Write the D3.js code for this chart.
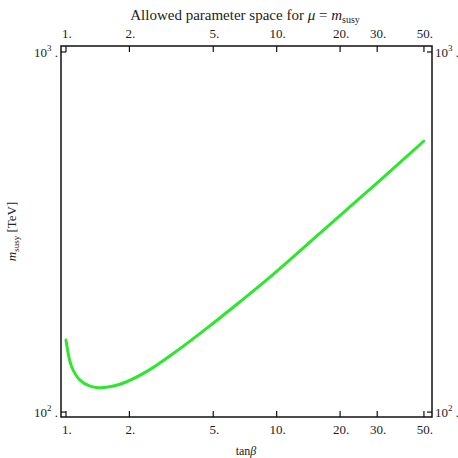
<!DOCTYPE html>
<html>
<head>
<meta charset="utf-8">
<script src="https://cdn.jsdelivr.net/npm/d3@7"></script>
<style>
  body { margin: 0; background: #fff; }
  text { font-family: "Liberation Serif", "DejaVu Serif", serif; fill: #222; }
</style>
</head>
<body>
<div id="chart"></div>
<script>
// curve
var tanBeta = [1.0, 1.064, 1.165, 1.3, 1.45, 1.68, 1.94, 2.5, 3.23, 4.65, 6.7, 9.29, 16.06, 23, 32.7, 50];
var mSusy = [158.5, 133.6, 122.7, 118.1, 116.8, 118.1, 121.4, 131.2, 145.4, 170.8, 202.5, 237, 314, 378, 453, 566];

var xTicks = [1, 2, 5, 10, 20, 30, 50];
var xTickLabels = ["1.", "2.", "5.", "10.", "20.", "30.", "50."];
var yTicks = [100, 1000];
var yTickExp = ["2", "3"];

var width = 458, height = 458;

var svg = d3.select("#chart").append("svg")
  .attr("width", width)
  .attr("height", height);

var x = d3.scaleLog().domain([0.947, 54.6]).range([61, 432]);
var y = d3.scaleLog().domain([96.9, 1039]).range([417, 46]);

var x0 = x.range()[0], x1 = x.range()[1];
var y0 = y.range()[0], y1 = y.range()[1];

// title
var title = svg.append("text")
  .attr("x", 245).attr("y", 20)
  .attr("text-anchor", "middle")
  .attr("font-size", 15);
title.append("tspan").text("Allowed parameter space for ");
title.append("tspan").attr("font-style", "italic").text("\u03bc");
title.append("tspan").text(" = ");
title.append("tspan").attr("font-style", "italic").text("m");
title.append("tspan").attr("font-size", 10).attr("dy", 3).text("susy");

// ticks, bottom and top pointing inward
xTicks.forEach(function(t, i) {
  svg.append("line")
    .attr("x1", x(t)).attr("x2", x(t))
    .attr("y1", y0).attr("y2", y0 - 6)
    .attr("stroke", "#111").attr("stroke-width", 1.2);
  svg.append("line")
    .attr("x1", x(t)).attr("x2", x(t))
    .attr("y1", y1).attr("y2", y1 + 6)
    .attr("stroke", "#111").attr("stroke-width", 1.2);
  svg.append("text")
    .attr("x", x(t) + 1).attr("y", y0 + 17)
    .attr("text-anchor", "middle")
    .attr("font-size", 13)
    .text(xTickLabels[i]);
  svg.append("text")
    .attr("x", x(t) + 1).attr("y", y1 - 8)
    .attr("text-anchor", "middle")
    .attr("font-size", 13)
    .text(xTickLabels[i]);
});

yTicks.forEach(function(t, i) {
  svg.append("line")
    .attr("x1", x0).attr("x2", x0 + 5)
    .attr("y1", y(t)).attr("y2", y(t))
    .attr("stroke", "#111").attr("stroke-width", 1.2);
  svg.append("line")
    .attr("x1", x1).attr("x2", x1 - 5)
    .attr("y1", y(t)).attr("y2", y(t))
    .attr("stroke", "#111").attr("stroke-width", 1.2);

  var lt = svg.append("text")
    .attr("x", x0 - 3).attr("y", y(t) + 5)
    .attr("text-anchor", "end")
    .attr("font-size", 13);
  lt.append("tspan").text("10");
  lt.append("tspan").attr("font-size", 9).attr("dy", -6).text(yTickExp[i]);
  lt.append("tspan").attr("dy", 6).text(" .");

  var rt = svg.append("text")
    .attr("x", x1 + 3).attr("y", y(t) + 5)
    .attr("text-anchor", "start")
    .attr("font-size", 13);
  rt.append("tspan").text("10");
  rt.append("tspan").attr("font-size", 9).attr("dy", -6).text(yTickExp[i]);
  rt.append("tspan").attr("dy", 6).text(" .");
});

// frame
svg.append("rect")
  .attr("x", x0).attr("y", y1)
  .attr("width", x1 - x0).attr("height", y0 - y1)
  .attr("fill", "none")
  .attr("stroke", "#111")
  .attr("stroke-width", 1.5);

// curve
var line = d3.line()
  .x(function(d, i) { return x(tanBeta[i]); })
  .y(function(d) { return y(d); })
  .curve(d3.curveCatmullRom.alpha(0.5));

svg.append("path")
  .datum(mSusy)
  .attr("d", line)
  .attr("fill", "none")
  .attr("stroke", "#2ee62e")
  .attr("stroke-width", 3)
  .attr("stroke-linecap", "round");

// axis labels
var xl = svg.append("text")
  .attr("x", 246).attr("y", 455)
  .attr("text-anchor", "middle")
  .attr("font-size", 12);
xl.append("tspan").text("tan");
xl.append("tspan").attr("font-style", "italic").text("\u03b2");

var yl = svg.append("text")
  .attr("transform", "translate(16," + ((y0 + y1) / 2) + ") rotate(-90)")
  .attr("text-anchor", "middle")
  .attr("font-size", 13);
yl.append("tspan").attr("font-style", "italic").text("m");
yl.append("tspan").attr("font-size", 9).attr("dy", 3).text("susy");
yl.append("tspan").attr("dy", -3).text(" [TeV]");
</script>
</body>
</html>
